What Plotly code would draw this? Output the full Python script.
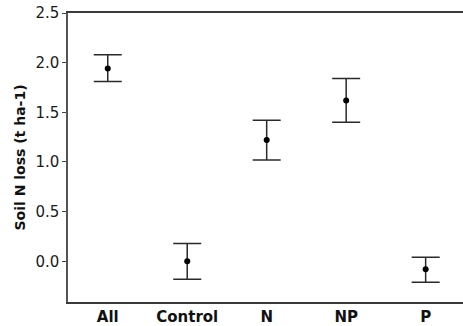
import plotly.graph_objects as go

# Treatment groups and soil N loss summary (t ha-1)
treatments = ["All", "Control", "N", "NP", "P"]
mean_loss = [1.94, 0.00, 1.22, 1.62, -0.08]
upper_limit = [2.08, 0.18, 1.42, 1.84, 0.04]
lower_limit = [1.81, -0.18, 1.02, 1.40, -0.21]

err_plus = [u - m for u, m in zip(upper_limit, mean_loss)]
err_minus = [m - l for m, l in zip(mean_loss, lower_limit)]

x_pos = list(range(len(treatments)))

FONT = "DejaVu Sans, Arial, sans-serif"

fig = go.Figure(
    go.Scatter(
        x=x_pos,
        y=mean_loss,
        mode="markers",
        marker=dict(color="black", size=6),
        error_y=dict(
            type="data",
            symmetric=False,
            array=err_plus,
            arrayminus=err_minus,
            color="#2a2a2a",
            thickness=1.5,
            width=14,
        ),
        showlegend=False,
    )
)

fig.update_layout(
    width=463,
    height=326,
    margin=dict(l=68, r=0, t=13, b=22),
    paper_bgcolor="white",
    plot_bgcolor="white",
    font=dict(family=FONT, color="#111111"),
)

fig.update_xaxes(
    range=[-0.5, 4.47],
    tickmode="array",
    tickvals=x_pos,
    ticktext=[f"<b>{t}</b>" for t in treatments],
    tickfont=dict(family=FONT, size=15, color="#111111"),
    ticks="",
    showline=True,
    linecolor="#3a3a3a",
    linewidth=1.5,
    mirror=True,
    showgrid=False,
    zeroline=False,
)

fig.update_yaxes(
    range=[-0.41, 2.5],
    tickmode="array",
    tickvals=[0.0, 0.5, 1.0, 1.5, 2.0, 2.5],
    ticktext=["0.0", "0.5", "1.0", "1.5", "2.0", "2.5"],
    tickfont=dict(family=FONT, size=15, color="#1a1a1a"),
    ticks="outside",
    ticklen=4,
    tickwidth=1.2,
    tickcolor="#444444",
    showline=True,
    linecolor="#555555",
    linewidth=1.5,
    showgrid=False,
    zeroline=False,
    title=dict(
        text="<b>Soil N loss (t ha-1)</b>",
        font=dict(family=FONT, size=14, color="#111111"),
        standoff=6,
    ),
)

fig.write_html("out.html")
